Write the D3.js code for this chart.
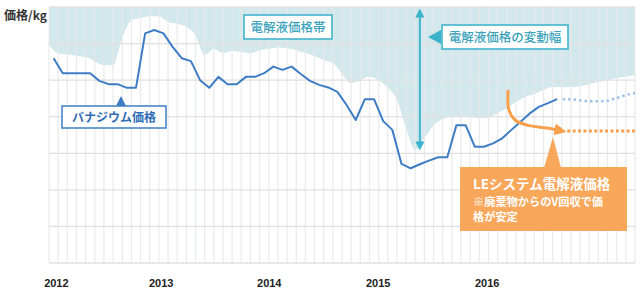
<!DOCTYPE html>
<html>
<head>
<meta charset="utf-8">
<script src="https://cdn.jsdelivr.net/npm/d3@7"></script>
<style>
  body { margin: 0; background: #fff; }
  svg { display: block; font-family: "Noto Sans CJK JP", "Noto Sans", sans-serif; }
</style>
</head>
<body>
<div id="chart"></div>
<script>
// Vanadium price, one value per month from 2012-01 (no y ticks in source, units are relative)
const vanadiumPrice = [
  5.60, 5.19, 5.19, 5.19, 5.19, 4.98, 4.89, 4.89, 4.79, 4.79,
  6.28, 6.37, 6.28, 5.91, 5.60, 5.52, 5.00, 4.79, 5.09, 4.89,
  4.89, 5.09, 5.09, 5.19, 5.37, 5.28, 5.37, 5.17, 4.98, 4.87,
  4.80, 4.68, 4.32, 3.91, 4.48, 4.48, 3.88, 3.64, 2.71, 2.59,
  2.70, 2.80, 2.89, 2.89, 3.77, 3.77, 3.18, 3.18, 3.27, 3.41,
  3.64, 3.86, 4.09, 4.27, 4.37, 4.48
];
// dotted continuation, starting at the last month of vanadiumPrice
const vanadiumForecast = [4.48, 4.48, 4.44, 4.42, 4.42, 4.44, 4.52, 4.60, 4.65];
// lower edge of the electrolyte price band, at each month boundary (0..64)
const bandLow = [
  5.96, 5.73, 5.70, 5.67, 5.63, 5.52, 5.41, 5.41, 6.15, 6.64,
  6.70, 6.75, 6.75, 6.59, 6.54, 6.45, 6.23, 5.69, 5.85, 5.74,
  5.80, 5.77, 5.74, 5.82, 5.85, 5.89, 5.87, 5.82, 5.74, 5.66,
  5.55, 5.47, 5.17, 4.92, 5.00, 5.09, 5.00, 4.79, 4.46, 3.69,
  3.09, 3.42, 3.77, 3.94, 3.99, 3.99, 3.99, 3.96, 3.99, 4.10,
  4.24, 4.40, 4.54, 4.62, 4.73, 4.81, 4.81, 4.81, 4.84, 4.89,
  4.95, 5.00, 5.06, 5.09, 5.14
];
// LE system electrolyte price (flat, dotted)
const lePrice = 3.61;
const leStartMonth = 56.6;
// orange arrow path in (month, value)
const leArrow = [[50.13, 4.73], [50.24, 4.18], [50.9, 3.91], [52.21, 3.77], [54.39, 3.69], [55.48, 3.64]];

const years = ["2012", "2013", "2014", "2015", "2016"];
const yearTickAt = [0.75, 12.2, 24.0, 35.9, 47.8];
const monthCount = 64;
const gridLevels = [0, 1, 2, 3, 4, 5, 6, 7];

const width = 640, height = 294;
const margin = { top: 7, right: 5, bottom: 31, left: 49 };

const svg = d3.select("#chart").append("svg")
  .attr("width", width)
  .attr("height", height);

const x = d3.scaleLinear().domain([0, monthCount]).range([margin.left, width - margin.right]);
const y = d3.scaleLinear().domain([0, 7]).range([height - margin.bottom, margin.top]);

const defs = svg.append("defs");
defs.append("clipPath").attr("id", "plot")
  .append("rect")
  .attr("x", x(0)).attr("y", y(7))
  .attr("width", x(monthCount) - x(0)).attr("height", y(0) - y(7));

// band
svg.append("path")
  .datum(bandLow)
  .attr("fill", "#d3e8ed")
  .attr("d", d3.area()
    .x((d, i) => x(i))
    .y0(y(7))
    .y1(d => y(d))
    .curve(d3.curveMonotoneX));

// grid
svg.append("g")
  .selectAll("line")
  .data(d3.range(0, monthCount + 1))
  .join("line")
  .attr("x1", d => x(d)).attr("x2", d => x(d))
  .attr("y1", y(7)).attr("y2", y(0))
  .attr("stroke", "#e6e8e9")
  .attr("stroke-opacity", 0.85)
  .attr("stroke-width", 1.3);

svg.append("g")
  .selectAll("line")
  .data(gridLevels)
  .join("line")
  .attr("x1", x(0)).attr("x2", x(monthCount))
  .attr("y1", d => y(d)).attr("y2", d => y(d))
  .attr("stroke", "#e0e0e0")
  .attr("stroke-width", 1.3);

// year axis
const xAxis = svg.append("g")
  .attr("transform", `translate(0,${y(0)})`)
  .call(d3.axisBottom(x).tickValues(yearTickAt).tickFormat((d, i) => years[i]).tickSize(0).tickPadding(16));
xAxis.select(".domain").remove();
xAxis.selectAll("text")
  .attr("font-family", "'Liberation Sans', sans-serif")
  .attr("font-weight", "bold")
  .attr("font-size", 11)
  .attr("fill", "#222");

// y title
svg.append("text")
  .attr("x", 4).attr("y", 20)
  .attr("font-size", 12).attr("font-weight", "bold")
  .attr("fill", "#333")
  .text("価格/kg");

// vanadium line
svg.append("path")
  .datum(vanadiumPrice)
  .attr("fill", "none")
  .attr("stroke", "#3e7dc5")
  .attr("stroke-width", 2)
  .attr("stroke-linejoin", "round")
  .attr("d", d3.line().x((d, i) => x(i + 0.5)).y(d => y(d)));

svg.append("path")
  .datum(vanadiumForecast)
  .attr("clip-path", "url(#plot)")
  .attr("fill", "none")
  .attr("stroke", "#9dc3e8")
  .attr("stroke-width", 2.5)
  .attr("stroke-dasharray", "2.5,3")
  .attr("d", d3.line().x((d, i) => x(vanadiumPrice.length - 1 + i + 0.5 + 0.6)).y(d => y(d)));

// markers
defs.append("marker").attr("id", "tealHead")
  .attr("markerUnits", "userSpaceOnUse")
  .attr("viewBox", "0 0 10 10").attr("refX", 5).attr("refY", 5)
  .attr("markerWidth", 9).attr("markerHeight", 9)
  .attr("orient", "auto-start-reverse")
  .append("path").attr("d", "M0,0L10,5L0,10Z").attr("fill", "#3db3cb");

defs.append("marker").attr("id", "orangeHead")
  .attr("markerUnits", "userSpaceOnUse")
  .attr("viewBox", "0 0 10 10").attr("refX", 2).attr("refY", 5)
  .attr("markerWidth", 12).attr("markerHeight", 13)
  .attr("orient", "auto")
  .append("path").attr("d", "M0,0L10,5L0,10Z").attr("fill", "#f8a04c");

// variation arrow
const vx = x(40.5);
svg.append("line")
  .attr("x1", vx).attr("x2", vx)
  .attr("y1", y(7) + 6).attr("y2", y(bandLow[40]) - 4)
  .attr("stroke", "#3db3cb").attr("stroke-width", 2)
  .attr("marker-start", "url(#tealHead)")
  .attr("marker-end", "url(#tealHead)");

// LE price: arrow + dotted level
svg.append("path")
  .datum(leArrow)
  .attr("fill", "none")
  .attr("stroke", "#f8a04c")
  .attr("stroke-width", 3)
  .attr("marker-end", "url(#orangeHead)")
  .attr("d", d3.line().x(d => x(d[0])).y(d => y(d[1])).curve(d3.curveCatmullRom));

svg.append("line")
  .attr("x1", x(leStartMonth)).attr("x2", x(monthCount))
  .attr("y1", y(lePrice)).attr("y2", y(lePrice))
  .attr("stroke", "#f8a04c").attr("stroke-width", 3)
  .attr("stroke-dasharray", "3,2.4");

// callout helper
function callout(g, opt) {
  g.append("rect")
    .attr("x", opt.x).attr("y", opt.y).attr("width", opt.w).attr("height", opt.h)
    .attr("fill", opt.fill).attr("stroke", opt.stroke).attr("stroke-width", opt.sw || 0);
  if (opt.pointer) {
    g.append("path").attr("d", opt.pointer).attr("fill", opt.pointerFill);
  }
  opt.lines.forEach(l => {
    g.append("text")
      .attr("x", l.x).attr("y", l.y)
      .attr("text-anchor", l.anchor || "start")
      .attr("font-size", l.size).attr("font-weight", l.weight || "bold")
      .attr("fill", l.color)
      .text(l.text);
  });
}

// バナジウム価格
callout(svg.append("g"), {
  x: 62, y: 106, w: 104, h: 22, fill: "#fff", stroke: "#3e7dc5", sw: 1.5,
  pointer: "M116,106L121,96L126,106Z", pointerFill: "#3e7dc5",
  lines: [{ x: 114, y: 122, anchor: "middle", size: 12, color: "#2f6db6", text: "バナジウム価格" }]
});

// 電解液価格帯
callout(svg.append("g"), {
  x: 244, y: 15, w: 88, h: 24, fill: "#fff", stroke: "#55bbd0", sw: 1.8,
  lines: [{ x: 288, y: 32, anchor: "middle", size: 12.5, weight: 500, color: "#3aa2ba", text: "電解液価格帯" }]
});

// 電解液価格の変動幅
callout(svg.append("g"), {
  x: 442, y: 25, w: 126, h: 24, fill: "#fff", stroke: "#55bbd0", sw: 1.8,
  pointer: "M441,30L428,37L441,44Z", pointerFill: "#3db3cb",
  lines: [{ x: 505, y: 42, anchor: "middle", size: 12.5, weight: 500, color: "#3aa2ba", text: "電解液価格の変動幅" }]
});

// LEシステム電解液価格
callout(svg.append("g"), {
  x: 460, y: 167, w: 167, h: 64, fill: "#f9a75b", stroke: "none",
  pointer: "M544,168L553,137L561,168Z", pointerFill: "#f9a75b",
  lines: [
    { x: 473, y: 189, size: 13.5, color: "#fff", text: "LEシステム電解液価格" },
    { x: 473, y: 206, size: 11.2, color: "#fff", text: "※廃棄物からのV回収で価" },
    { x: 473, y: 221, size: 11.2, color: "#fff", text: "格が安定" }
  ]
});
</script>
</body>
</html>
